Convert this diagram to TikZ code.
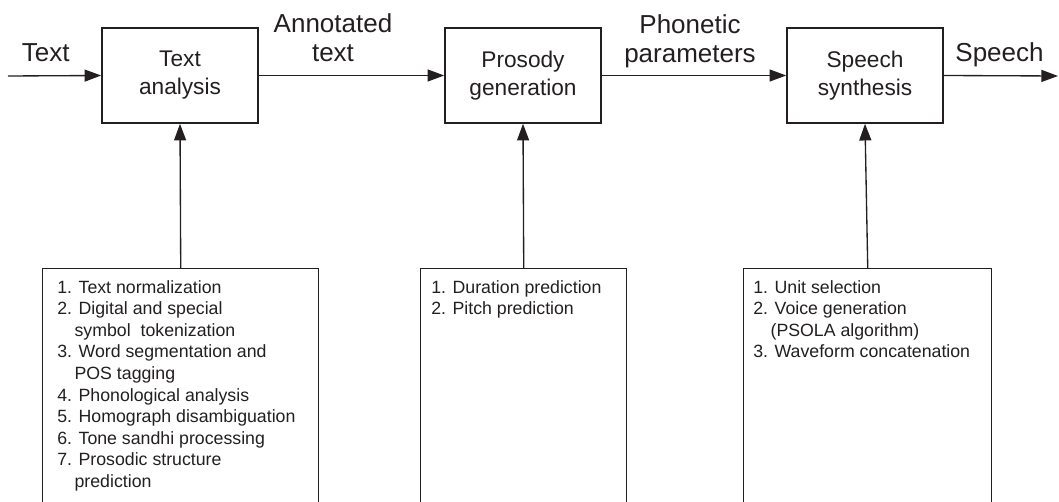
\documentclass[tikz,border=0pt]{standalone}
\usepackage{fontspec}
\setmainfont{Liberation Sans}
\usetikzlibrary{arrows.meta}
\definecolor{ink}{RGB}{35,31,32}
\tikzset{
  x=0.75pt, y=-0.75pt,
  every node/.style={text=ink},
  arr/.style={draw=ink, line width=1pt, -{Triangle[length=12.5pt,width=9pt]}},
  stage/.style={draw=ink, line width=1.2pt, rectangle, minimum width=117pt, minimum height=71.25pt,
    align=center, inner sep=0pt, font=\fontsize{17}{21}\selectfont},
  panel/.style={draw=ink, line width=1.1pt, rectangle, anchor=north west, inner sep=0pt},
  flowlabel/.style={align=center, inner sep=0pt, font=\fontsize{19.5}{21.75}\selectfont},
  steps/.style={anchor=north west, align=left, inner sep=0pt, font=\fontsize{13.3}{16.2}\selectfont}
}
\newcommand{\cont}{\hspace*{13pt}}
\begin{document}
\begin{tikzpicture}
\useasboundingbox (0,0) rectangle (1059,502);
\clip (0,0) rectangle (1059,502);

% processing stages
\node[stage] (ta) at (180,75.5) {Text\\analysis};
\node[stage] (pg) at (523,75.5) {Prosody\\generation};
\node[stage] (ss) at (865,75.5) {Speech\\synthesis};

% input and output ends of the chain
\coordinate (in) at (8,76);
\coordinate (out) at (1058,76);

% flow along the chain
\draw[arr] (in) -- (ta.west);
\draw[arr] (ta.east) -- (pg.west);
\draw[arr] (pg.east) -- (ss.west);
\draw[arr] (ss.east) -- (out);

% labels on the chain
\node[flowlabel, anchor=base] (lt) at (45.8,62) {Text};
\node[flowlabel] (lat) at (333,38.2) {Annotated\\text};
\node[flowlabel] (lpp) at (690,41) {Phonetic\\parameters};
\node[flowlabel, anchor=base] (lsp) at (999.5,62) {Speech};

% task panels below each stage (open at the bottom)
\node[panel, minimum width=207pt, minimum height=181.5pt] (p1) at (42,268) {};
\node[panel, minimum width=154.5pt, minimum height=181.5pt] (p2) at (420,268) {};
\node[panel, minimum width=186pt, minimum height=181.5pt] (p3) at (743,268) {};

\draw[arr] (p1.north) -- (ta.south);
\draw[arr] (p2.north) -- (pg.south);
\draw[arr] (p3.north) -- (ss.south);

% task lists
\node[steps] (s1) at (57,280) {1. Text normalization\\
2. Digital and special\\
\cont symbol\ \ tokenization\\
3. Word segmentation and\\
\cont POS tagging\\
4. Phonological analysis\\
5. Homograph disambiguation\\
6. Tone sandhi processing\\
7. Prosodic structure\\
\cont prediction};
\node[steps] (s2) at (431,280) {1. Duration prediction\\
2. Pitch prediction};
\node[steps] (s3) at (753,280) {1. Unit selection\\
2. Voice generation\\
\cont(PSOLA algorithm)\\
3. Waveform concatenation};
\end{tikzpicture}
\end{document}
